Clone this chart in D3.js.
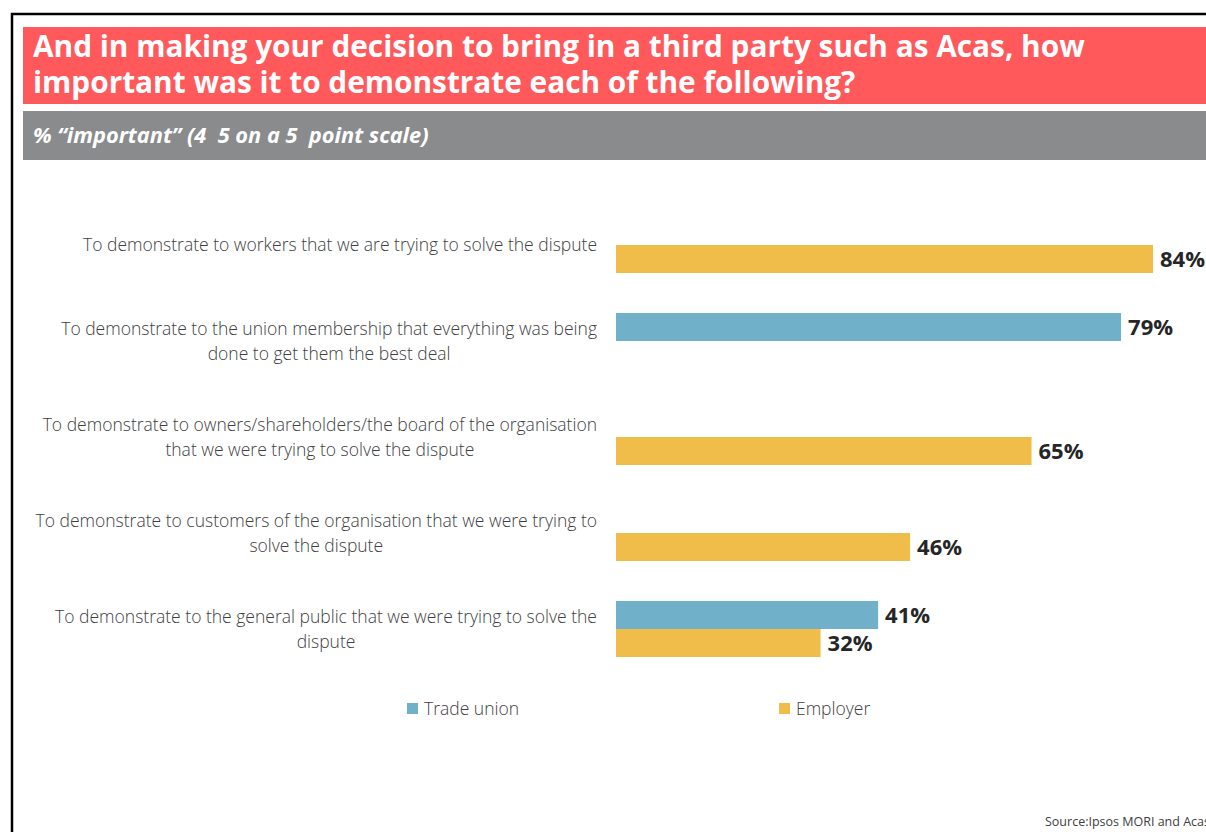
<!DOCTYPE html>
<html>
<head>
<meta charset="utf-8">
<script src="https://cdn.jsdelivr.net/npm/d3@7"></script>
<style>
  html, body { margin: 0; padding: 0; background: #fff; overflow: hidden; }
  svg { display: block; }
</style>
</head>
<body>
<svg id="chart" width="1206" height="832"></svg>
<script>
// Survey question, categories and values (% "important")
const titleLines = [
  "And in making your decision to bring in a third party such as Acas, how",
  "important was it to demonstrate each of the following?"
];
const subtitle = "% \u201Cimportant\u201D (4  5 on a 5  point scale)";
const categories = [
  ["To demonstrate to workers that we are trying to solve the dispute"],
  ["To demonstrate to the union membership that everything was being", "done to get them the best deal"],
  ["To demonstrate to owners/shareholders/the board of the organisation", "that we were trying to solve the dispute"],
  ["To demonstrate to customers of the organisation that we were trying to", "solve the dispute"],
  ["To demonstrate to the general public that we were trying to solve the", "dispute"]
];
const seriesNames = ["Trade union", "Employer"];
const tradeUnion = [null, 79, null, null, 41];
const employer   = [84, null, 65, 46, 32];
const seriesColors = ["#71B0C9", "#F0BD4A"];
const sourceText = "Source:Ipsos MORI and Acas";

const svg = d3.select("#chart");
const W = 1206, H = 832;

// frame
svg.append("path")
  .attr("d", `M12,${H} L12,14 L${W},14`)
  .attr("fill", "none").attr("stroke", "#000").attr("stroke-width", 2.5);

// title banner
svg.append("rect").attr("x", 23).attr("y", 27).attr("width", W - 23).attr("height", 77).attr("fill", "#FF595C");
const title = svg.append("text")
  .attr("font-family", "'Open Sans', sans-serif").attr("font-weight", 700)
  .attr("font-size", 29.8).attr("fill", "#fff");
titleLines.forEach((t, i) => {
  title.append("tspan").attr("x", 33).attr("y", 57 + i * 36).text(t);
});

// subtitle banner
svg.append("rect").attr("x", 23).attr("y", 111).attr("width", W - 23).attr("height", 49).attr("fill", "#898B8D");
svg.append("text")
  .attr("x", 33).attr("y", 143)
  .attr("font-family", "'Open Sans', sans-serif").attr("font-weight", 700).attr("font-style", "italic")
  .attr("font-size", 21.8).attr("fill", "#fff")
  .attr("xml:space", "preserve")
  .text(subtitle);

// scales
const idx = d3.range(categories.length);
const y = d3.scaleBand().domain(idx).range([197, 677]).padding(0);
const ySub = d3.scaleBand().domain(seriesNames).range([20, 76]).padding(0);
const x = d3.scaleLinear().domain([0, 100]).range([616, 616 + 639.3]);

const rows = [];
idx.forEach(i => {
  [tradeUnion[i], employer[i]].forEach((v, s) => {
    if (v !== null) rows.push({ i, s, v });
  });
});

// bars
svg.append("g").selectAll("rect").data(rows).join("rect")
  .attr("x", x(0))
  .attr("y", d => y(d.i) + ySub(seriesNames[d.s]))
  .attr("width", d => x(d.v) - x(0))
  .attr("height", ySub.bandwidth())
  .attr("fill", d => seriesColors[d.s]);

// value labels
svg.append("g").selectAll("text").data(rows).join("text")
  .attr("x", d => x(d.v) + 7)
  .attr("y", d => y(d.i) + ySub(seriesNames[d.s]) + ySub.bandwidth() / 2)
  .attr("dy", "0.36em")
  .attr("font-family", "'Open Sans', sans-serif").attr("font-weight", 700)
  .attr("font-size", 22).attr("fill", "#262626")
  .text(d => d.v + "%");

// category labels: lines centred on each other, block right-aligned
const labelRight = 597, lineH = 25;
const catG = svg.append("g")
  .attr("font-family", "'Open Sans', sans-serif").attr("font-weight", 300)
  .attr("font-size", 17.5).attr("fill", "#404040");
categories.forEach((lines, i) => {
  const cy = y(i) + 48;
  const t = catG.append("text").attr("text-anchor", "middle");
  const spans = lines.map((ln, k) =>
    t.append("tspan").attr("y", cy + (k - (lines.length - 1) / 2) * lineH).attr("dy", "0.35em").text(ln));
  const maxW = d3.max(spans, s => s.node().getComputedTextLength());
  spans.forEach(s => s.attr("x", labelRight - maxW / 2));
});

// legend
const legend = svg.append("g")
  .attr("font-family", "'Open Sans', sans-serif").attr("font-weight", 300)
  .attr("font-size", 17.5).attr("fill", "#404040");
const legendX = [407, 779];
seriesNames.forEach((n, s) => {
  legend.append("rect").attr("x", legendX[s]).attr("y", 703).attr("width", 11).attr("height", 11).attr("fill", seriesColors[s]);
  legend.append("text").attr("x", legendX[s] + 17).attr("y", 709).attr("dy", "0.35em").text(n);
});

// source
svg.append("text").attr("x", 1045).attr("y", 826)
  .attr("font-family", "'Open Sans', sans-serif").attr("font-size", 12.5).attr("fill", "#404040")
  .text(sourceText);
</script>
</body>
</html>
